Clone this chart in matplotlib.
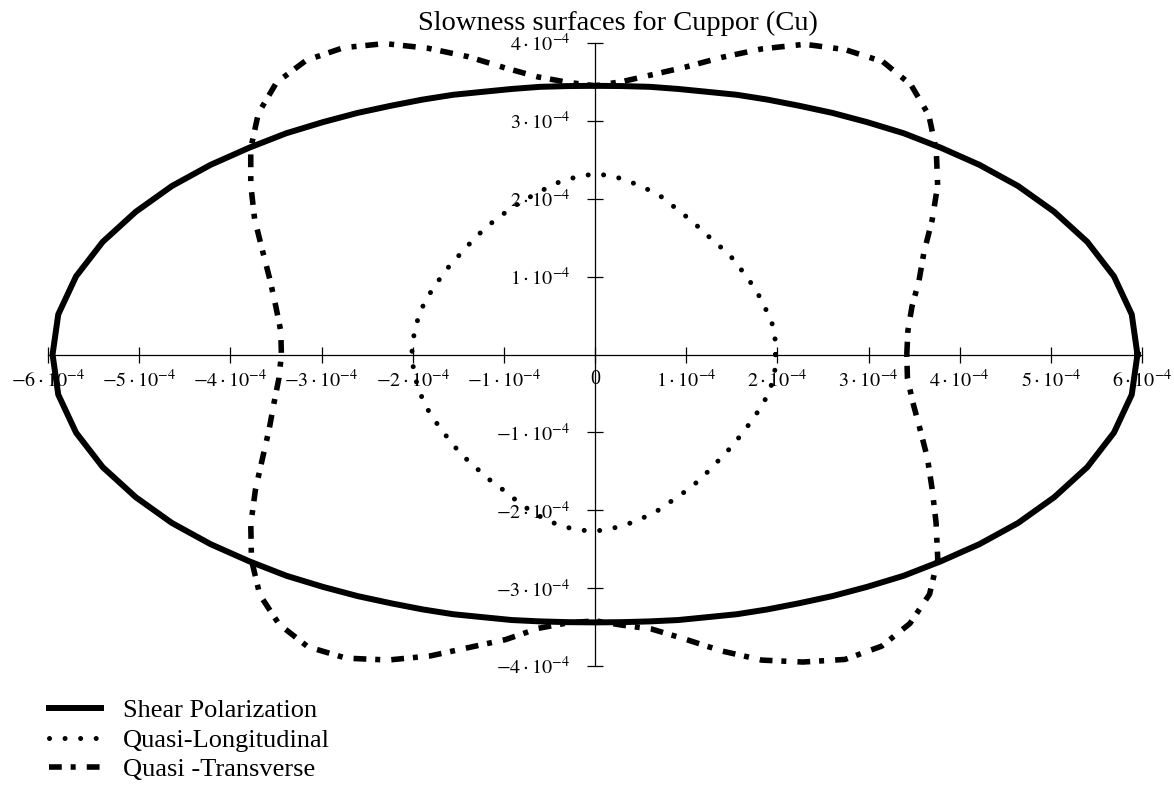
import numpy as np
import matplotlib
matplotlib.use("Agg")
import matplotlib.pyplot as plt

# ---------------- data (radii in units of 1e-4) -------------
angles_deg = list(range(0, 360, 5))

shear_r = [5.95, 5.91, 5.78, 5.59, 5.36, 5.12, 4.87, 4.63, 4.42, 4.22, 4.05, 3.90, 3.78, 3.68, 3.59, 3.53, 3.49, 3.46,
           3.45, 3.46, 3.49, 3.53, 3.59, 3.68, 3.78, 3.90, 4.05, 4.22, 4.42, 4.63, 4.87, 5.12, 5.36, 5.59, 5.78, 5.91,
           5.95, 5.91, 5.78, 5.59, 5.36, 5.12, 4.87, 4.63, 4.42, 4.22, 4.05, 3.90, 3.78, 3.68, 3.59, 3.53, 3.48, 3.45,
           3.44, 3.45, 3.48, 3.53, 3.59, 3.68, 3.78, 3.90, 4.05, 4.22, 4.42, 4.63, 4.87, 5.12, 5.36, 5.59, 5.78, 5.91]

ql_r = [1.98, 1.985, 1.99, 1.97, 1.955, 1.95, 1.94, 1.94, 1.95, 1.95, 1.96, 1.99, 2.03, 2.08, 2.15, 2.20, 2.25, 2.30,
        2.32, 2.29, 2.25, 2.19, 2.14, 2.10, 2.06, 2.03, 2.00, 1.975, 1.96, 1.96, 1.96, 1.97, 1.985, 1.995, 2.00, 2.005,
        2.01, 2.00, 1.99, 1.98, 1.97, 1.955, 1.94, 1.94, 1.945, 1.95, 1.96, 1.985, 2.01, 2.06, 2.12, 2.18, 2.23, 2.26,
        2.27, 2.24, 2.20, 2.155, 2.11, 2.05, 2.015, 1.98, 1.945, 1.92, 1.91, 1.905, 1.91, 1.92, 1.945, 1.965, 1.98, 1.985]

qt_r = [3.42, 3.445, 3.53, 3.68, 3.84, 4.08, 4.34, 4.57, 4.78, 4.90, 4.91, 4.78, 4.60, 4.33, 4.06, 3.82, 3.65, 3.52,
        3.45, 3.51, 3.62, 3.81, 4.07, 4.34, 4.61, 4.81, 4.93, 4.94, 4.82, 4.61, 4.36, 4.12, 3.88, 3.69, 3.555, 3.46,
        3.44, 3.48, 3.575, 3.70, 3.88, 4.11, 4.36, 4.60, 4.80, 4.90, 4.90, 4.76, 4.53, 4.27, 4.00, 3.79, 3.57, 3.46,
        3.42, 3.49, 3.58, 3.78, 4.05, 4.33, 4.56, 4.78, 4.89, 4.885, 4.79, 4.59, 4.32, 4.08, 3.88, 3.69, 3.54, 3.44]

unit = 1e-4
x_ticks = [-6, -5, -4, -3, -2, -1, 0, 1, 2, 3, 4, 5, 6]
x_tick_labels = [r"$-6\cdot10^{-4}$", r"$-5\cdot10^{-4}$", r"$-4\cdot10^{-4}$", r"$-3\cdot10^{-4}$",
                 r"$-2\cdot10^{-4}$", r"$-1\cdot10^{-4}$", "0", r"$1\cdot10^{-4}$", r"$2\cdot10^{-4}$",
                 r"$3\cdot10^{-4}$", r"$4\cdot10^{-4}$", r"$5\cdot10^{-4}$", r"$6\cdot10^{-4}$"]
y_ticks = [-4, -3, -2, -1, 1, 2, 3, 4]
y_tick_labels = [r"$-4\cdot10^{-4}$", r"$-3\cdot10^{-4}$", r"$-2\cdot10^{-4}$", r"$-1\cdot10^{-4}$",
                 r"$1\cdot10^{-4}$", r"$2\cdot10^{-4}$", r"$3\cdot10^{-4}$", r"$4\cdot10^{-4}$"]
series_names = ["Shear Polarization", "Quasi-Longitudinal", "Quasi -Transverse"]
title = "Slowness surfaces for Cuppor (Cu)"

# ---------------- figure -------------------------------------------------------------
plt.rcParams["font.family"] = ["Liberation Serif", "DejaVu Serif"]
plt.rcParams["mathtext.fontset"] = "stix"

W, H = 1174, 787
fig = plt.figure(figsize=(W / 100, H / 100), dpi=100)
ax = fig.add_axes([48 / W, (H - 666) / H, 1094 / W, 623 / H])
ax.set_xlim(-6 * unit, 6 * unit)
ax.set_ylim(-4 * unit, 4 * unit)
ax.patch.set_visible(False)
for s in ["top", "right"]:
    ax.spines[s].set_visible(False)
ax.spines["left"].set_position(("data", 0))
ax.spines["bottom"].set_position(("data", 0))
for s in ["left", "bottom"]:
    ax.spines[s].set_linewidth(0.9)

ax.set_xticks([v * unit for v in x_ticks], x_tick_labels)
ax.set_yticks([v * unit for v in y_ticks], y_tick_labels)
ax.tick_params(axis="both", direction="inout", length=12, width=0.9, labelsize=14.5)
ax.tick_params(axis="x", pad=5)
ax.tick_params(axis="y", pad=12)


def closed_xy(r_list):
    th = np.deg2rad(np.array(angles_deg + [angles_deg[0]], dtype=float))
    r = np.array(r_list + [r_list[0]], dtype=float) * unit
    return r * np.cos(th), r * np.sin(th)


x, y = closed_xy(ql_r)
l_ql, = ax.plot(x, y, color="black", lw=3.6, linestyle=(0, (0.01, 3.1)),
                dash_capstyle="round", clip_on=False, zorder=3)
x, y = closed_xy(qt_r)
l_qt, = ax.plot(x, y, color="black", lw=4.0, linestyle=(0, (2.3, 1.6, 0.9, 2.0)),
                dash_capstyle="butt", clip_on=False, zorder=3)
x, y = closed_xy(shear_r)
l_sh, = ax.plot(x, y, color="black", lw=4.3, solid_joinstyle="round", clip_on=False, zorder=4)

fig.text(618 / W, 1 - 30 / H, title, ha="center", va="baseline", fontsize=20.5)

fig.legend([l_sh, l_ql, l_qt], series_names, loc="upper left",
           bbox_to_anchor=(49 / W, 1 - 699 / H), frameon=False, fontsize=19,
           borderpad=0, borderaxespad=0, handlelength=1.97, handletextpad=0.83,
           labelspacing=0.22)

fig.savefig("out.png", dpi=100)
